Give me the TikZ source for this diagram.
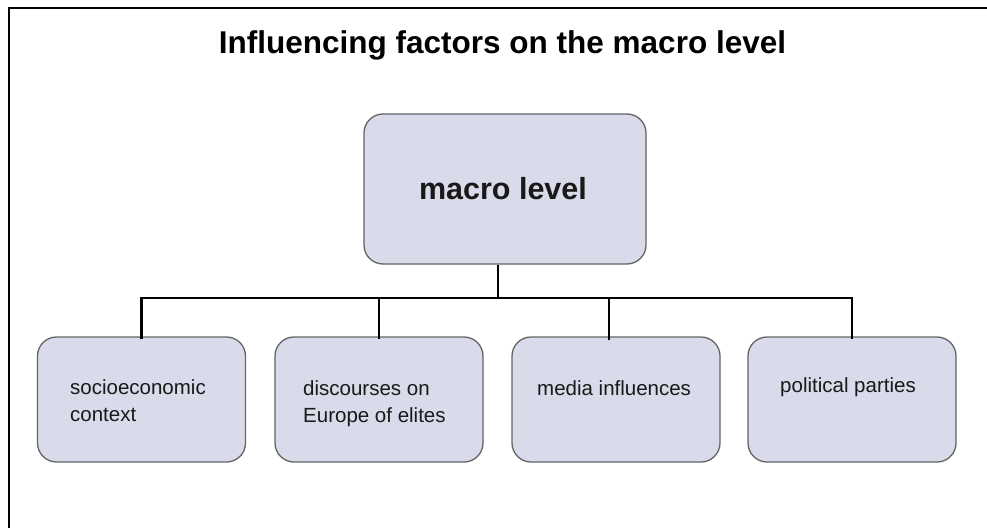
\documentclass[tikz,border=0pt]{standalone}
\usepackage{fontspec}
\setmainfont{Liberation Sans}
\definecolor{boxfill}{RGB}{217,218,234}
\definecolor{boxline}{RGB}{100,100,100}
\begin{document}
\begin{tikzpicture}[x=1pt,y=-1pt,
  box/.style={draw=boxline, fill=boxfill, line width=1.3pt, rounded corners=19pt, inner sep=0pt},
  topbox/.style={box, minimum width=282pt, minimum height=150pt},
  lowbox/.style={box, minimum width=208pt, minimum height=125pt},
  conn/.style={draw=black, line width=2.2pt},
  lbl/.style={font=\fontsize{20.5}{26.5}\selectfont, align=left, inner sep=0pt, anchor=base west, text=black!90},
  frame/.style={draw=black, line width=2.4pt}]
\useasboundingbox (0,0) rectangle (987,527);
\draw[frame] (9,528) -- (9,8) -- (988,8);
\node[font=\fontsize{31.5}{38}\selectfont\bfseries, anchor=base, inner sep=0pt] (title) at (502.5,53) {Influencing factors on the macro level};
\node[topbox] (top) at (505,189) {};
\node[font=\fontsize{30.5}{36}\selectfont\bfseries, anchor=base, inner sep=0pt, text=black!90] (toplbl) at (503,199) {macro level};
\node[lowbox] (b1) at (141.5,399.5) {};
\node[lowbox] (b2) at (379,399.5) {};
\node[lowbox] (b3) at (616,399.5) {};
\node[lowbox] (b4) at (852,399.5) {};
\node[lbl] (t1) at (70,421) {socioeconomic\\context};
\node[lbl] (t2) at (303,422) {discourses on\\Europe of elites};
\node[lbl] (t3) at (537,395) {media influences};
\node[lbl] (t4) at (780,392) {political parties};
\coordinate (bus) at (498,298);
\draw[conn] (top.south -| bus) -- (bus);
\draw[conn] ([yshift=-3pt]b1.north) |- (bus) -| ([yshift=-3pt]b4.north);
\draw[conn] ([yshift=-3pt]b2.north) -- (b2.north |- bus);
\coordinate (d3) at ([xshift=-7pt,yshift=-4pt]b3.north);
\draw[conn] (d3) -- (d3 |- bus);
\end{tikzpicture}
\end{document}
